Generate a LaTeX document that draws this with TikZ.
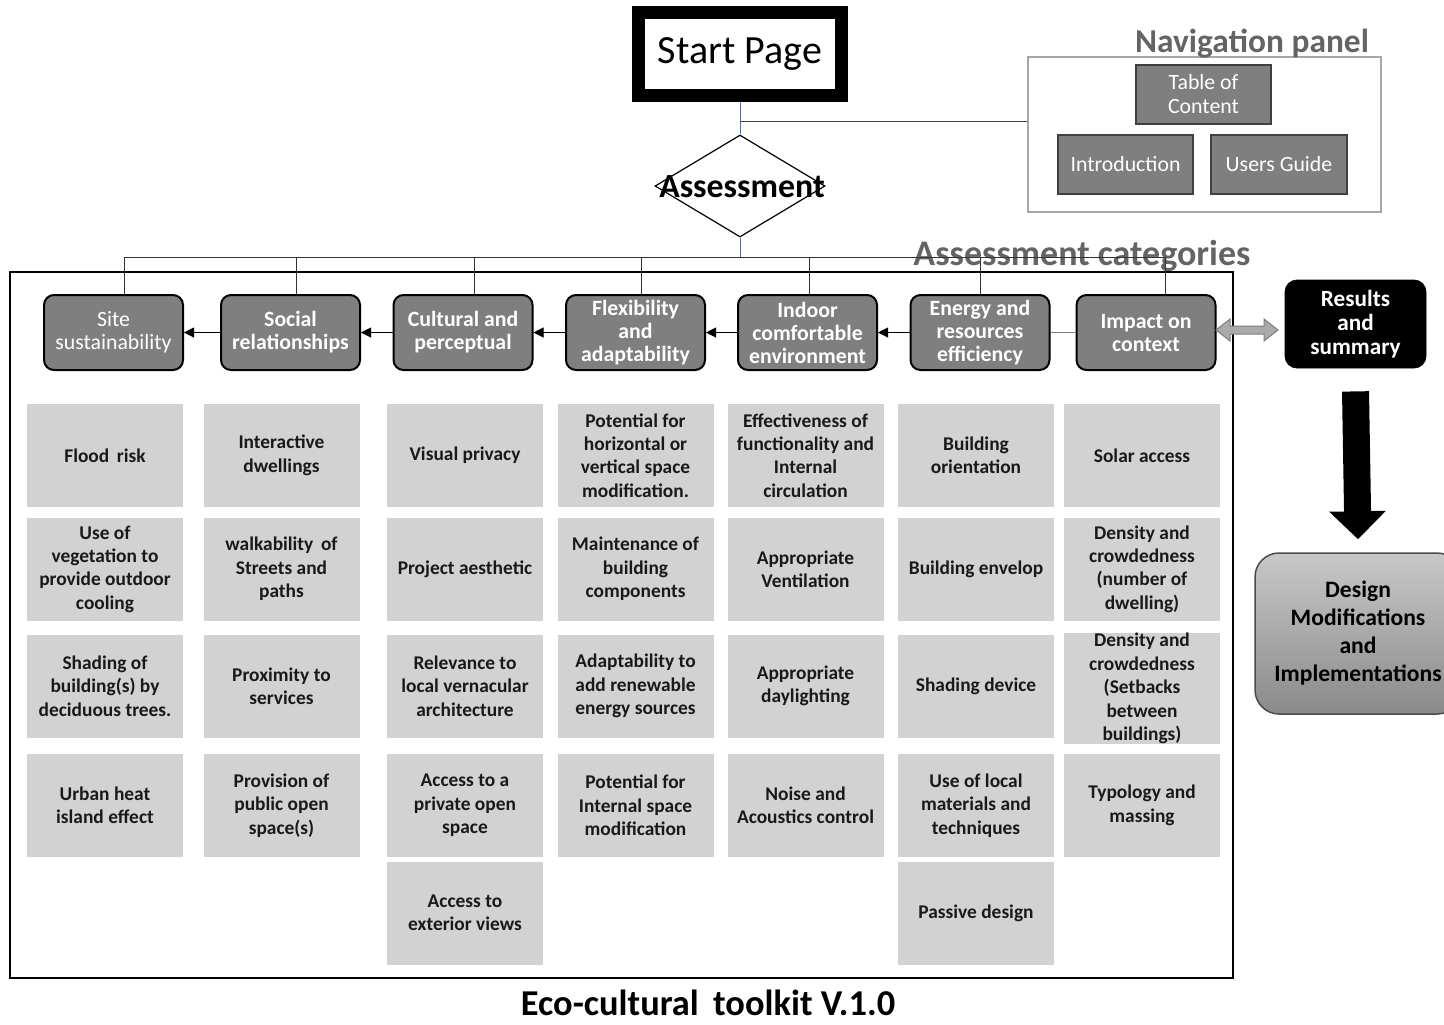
\documentclass[tikz,border=0pt]{standalone}
\usepackage{fontspec}
\setmainfont{Carlito}
\usetikzlibrary{shapes.geometric,arrows.meta,calc}

\definecolor{catgray}{RGB}{127,127,127}
\definecolor{cellgray}{RGB}{210,210,210}
\definecolor{navborder}{RGB}{166,166,166}
\definecolor{headgray}{RGB}{100,100,100}
\definecolor{linkblue}{RGB}{68,114,196}
\definecolor{dblgray}{RGB}{170,170,170}

\tikzset{
  cat/.style={draw=black, line width=1pt, fill=catgray, rounded corners=5pt,
    minimum width=69.5pt, minimum height=37.5pt, inner sep=0pt, align=center,
    text=white, font=\fontsize{10.9}{11.5}\selectfont\bfseries},
  cell/.style={fill=cellgray, minimum width=78pt, minimum height=51.5pt,
    inner sep=0pt, align=center, text=black!90,
    font=\fontsize{9.7}{11.7}\selectfont\bfseries},
  navbox/.style={draw=black!75, line width=0.75pt, fill=catgray,
    minimum width=67.5pt, minimum height=29.5pt, inner sep=0pt, align=center,
    text=white, font=\fontsize{10.9}{12}\selectfont},
  heading/.style={text=headgray, font=\fontsize{#1}{#1}\selectfont\bfseries},
  thin/.style={line width=0.5pt},
  flow/.style={thin, draw=black, -{Triangle[length=5pt,width=5pt]}},
}

\begin{document}
\begin{tikzpicture}[x=0.5pt,y=-0.5pt]
\useasboundingbox (0,0) rectangle (1444,1024);
\clip (0,0) rectangle (1444,1024);

% ---------- start page and navigation ----------
\node[draw=black, line width=6.5pt, fill=white, minimum width=101.5pt,
      minimum height=41.5pt, inner sep=0pt,
      font=\fontsize{20}{21}\selectfont] (start) at (740,54) {Start Page};

\node[draw=navborder, line width=1pt, minimum width=176.5pt,
      minimum height=77.5pt, inner sep=0pt] (nav) at (1204.5,134.5) {};
\node[heading=16.7] (navtitle) at (1252,44) {Navigation panel};
\node[navbox] (toc) at (1203.5,94.5) {Table of\\Content};
\node[navbox] (intro) at (1125.5,164.5) {Introduction};
\node[navbox, minimum width=68pt] (guide) at (1279,164.5) {Users Guide};

\node[diamond, draw=black, line width=0.6pt, minimum width=85pt,
      minimum height=51pt, inner sep=0pt] (assess) at (740,186) {};
\node[font=\fontsize{16.9}{17}\selectfont\bfseries] (assesstext)
      at ($(assess.center)+(2,1)$) {Assessment};

\coordinate (navjoin) at (740,121);
\draw[thin, linkblue] (start.south) -- (assess.north);
\draw[thin, black!75] (navjoin) -- (navjoin -| nav.west);

% ---------- assessment categories ----------
\node[heading=18] (cattitle) at (1082,256) {Assessment categories};

\draw[line width=0.75pt] (10,272) rectangle (1233,978);

\node[cat, font=\fontsize{10.9}{11.5}\selectfont] (site) at (113.5,332.5) {Site\\sustainability};
\node[cat] (social) at (290.5,332.5) {Social\\relationships};
\node[cat] (cult) at (463,332.5) {Cultural and\\perceptual};
\node[cat] (flex) at (635.5,332.5) {Flexibility\\and\\adaptability};
\node[cat] (indoor) at (807.5,332.5) {Indoor\\comfortable\\environment};
\node[cat] (energy) at (980,332.5) {Energy and\\resources\\efficiency};
\node[cat] (impact) at (1146,332.5) {Impact on\\context};

% bus from the assessment diamond to every category
\coordinate (bus) at (740,257);
\draw[thin, linkblue] (assess.south) -- (bus);
\coordinate (d1) at (124,257);
\coordinate (d2) at (296,257);
\coordinate (d3) at (474,257);
\coordinate (d4) at (641,257);
\coordinate (d5) at (809,257);
\coordinate (d6) at (980,257);
\coordinate (d7) at (1165,257);
\draw[thin, black!80] (d1) -- (d7);
\draw[thin, black!80] (d1) -- (d1 |- site.north);
\draw[thin, black!80] (d2) -- (d2 |- social.north);
\draw[thin, black!80] (d3) -- (d3 |- cult.north);
\draw[thin, black!80] (d4) -- (d4 |- flex.north);
\draw[thin, black!80] (d5) -- (d5 |- indoor.north);
\draw[thin, black!80] (d6) -- (d6 |- energy.north);
\draw[thin, black!80] (d7) -- (d7 |- impact.north);

% chain between categories
\draw[thin, catgray] (impact.west) -- (energy.east);
\draw[flow] (energy.west) -- (indoor.east);
\draw[flow] (indoor.west) -- (flex.east);
\draw[flow] (flex.west) -- (cult.east);
\draw[flow] (cult.west) -- (social.east);
\draw[flow] (social.west) -- (site.east);

% ---------- results ----------
\node[fill=black, draw=black, rounded corners=6pt, minimum width=70.5pt,
      minimum height=44pt, inner sep=0pt, align=center, text=white,
      font=\fontsize{11.6}{12}\selectfont\bfseries] (results) at (1355.5,324)
      {Results\\and\\summary};

\node[draw=black!70, line width=0.75pt, top color={rgb,255:red,200;green,200;blue,200},
      bottom color={rgb,255:red,138;green,138;blue,138}, rounded corners=12pt,
      minimum width=103pt, minimum height=80.5pt, inner sep=0pt, align=center,
      font=\fontsize{11.8}{14}\selectfont\bfseries] (design) at (1358,633.5)
      {Design\\Modifications\\and\\Implementations};

% double-headed link between categories and results
\coordinate (dblL) at (1216,330);
\coordinate (dblR) at (1278,330);
\filldraw[fill=dblgray, draw=catgray, line width=0.5pt]
  (dblL) -- ++(14,-11) -- ++(0,7) -- ($(dblR)+(-14,-4)$) -- ++(0,-7)
  -- (dblR) -- ++(-14,11) -- ++(0,-7) -- ($(dblL)+(14,4)$) -- ++(0,7) -- cycle;

% big arrow from results to design
\draw[line width=13.5pt, -{Triangle[length=14pt,width=27.5pt]}]
  ([yshift=-11.5pt]results.south) -- ([yshift=6.5pt]design.north);

% ---------- criteria ----------
\node[cell] (c11) at (105,455.5) {Flood\,\ risk};
\node[cell] (c12) at (105,569) {Use of\\vegetation to\\provide outdoor\\cooling};
\node[cell] (c13) at (105,686) {Shading of\\building(s) by\\deciduous trees.};
\node[cell] (c14) at (105,805.5) {Urban heat\\island effect};

\node[cell] (c21) at (281.5,455.5) {Interactive\\dwellings};
\node[cell] (c22) at (281.5,569) {walkability\,\ of\\Streets and\\paths};
\node[cell] (c23) at (281.5,686) {Proximity to\\services};
\node[cell] (c24) at (281.5,805.5) {Provision of\\public open\\space(s)};

\node[cell] (c31) at (465,455.5) {Visual privacy};
\node[cell] (c32) at (465,569) {Project aesthetic};
\node[cell] (c33) at (465,686) {Relevance to\\local vernacular\\architecture};
\node[cell] (c34) at (465,805.5) {Access to a\\private open\\space};
\node[cell] (c35) at (465,913) {Access to\\exterior views};

\node[cell] (c41) at (635.5,455.5) {Potential for\\horizontal or\\vertical space\\modification.};
\node[cell] (c42) at (635.5,569) {Maintenance of\\building\\components};
\node[cell] (c43) at (635.5,686) {Adaptability to\\add renewable\\energy sources};
\node[cell] (c44) at (635.5,805.5) {Potential for\\Internal space\\modification};

\node[cell] (c51) at (805.5,455.5) {Effectiveness of\\functionality and\\Internal\\circulation};
\node[cell] (c52) at (805.5,569) {Appropriate\\Ventilation};
\node[cell] (c53) at (805.5,686) {Appropriate\\daylighting};
\node[cell] (c54) at (805.5,805.5) {Noise and\\Acoustics control};

\node[cell] (c61) at (976,455.5) {Building\\orientation};
\node[cell] (c62) at (976,569) {Building envelop};
\node[cell] (c63) at (976,686) {Shading device};
\node[cell] (c64) at (976,805.5) {Use of local\\materials and\\techniques};
\node[cell] (c65) at (976,913) {Passive design};

\node[cell] (c71) at (1142,455.5) {Solar access};
\node[cell] (c72) at (1142,569) {Density and\\crowdedness\\(number of\\dwelling)};
\node[cell, minimum height=54.5pt] (c73) at (1142,688.5) {Density and\\crowdedness\\(Setbacks\\between\\buildings)};
\node[cell] (c74) at (1142,805.5) {Typology and\\massing};

% ---------- title ----------
\node[font=\fontsize{18.2}{19}\selectfont\bfseries] (title) at (708,1003)
  {Eco-cultural\,\ toolkit V.1.0};
\end{tikzpicture}
\end{document}
